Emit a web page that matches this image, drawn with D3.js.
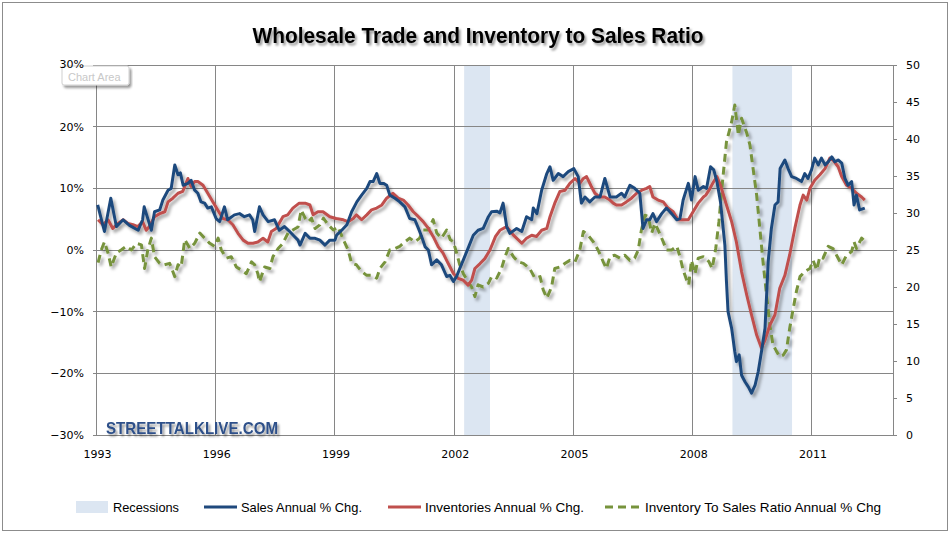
<!DOCTYPE html>
<html><head><meta charset="utf-8">
<script src="https://cdn.jsdelivr.net/npm/d3@7"></script>
<style>
html,body{margin:0;padding:0;background:#fff;}
svg{display:block;}
text{font-family:"Liberation Sans Narrow","Arial Narrow","Liberation Sans",Arial,sans-serif;}
</style></head>
<body>
<svg id="chart" width="951" height="535"></svg>
<script>
// ---- data (decimal year, value) ----
const title = "Wholesale Trade and Inventory to Sales Ratio";
const leftTicks = [-30,-20,-10,0,10,20,30];
const rightTicks = [0,5,10,15,20,25,30,35,40,45,50];
const xTicks = [1993,1996,1999,2002,2005,2008,2011];
const recessions = [[2002.25,2002.9],[2009.0,2010.5]];
const seriesNames = ["Recessions","Sales Annual % Chg.","Inventories Annual % Chg.","Inventory To Sales Ratio Annual % Chg"];

const sales = [[1993.03,7.3],[1993.2,3.0],[1993.36,8.4],[1993.5,3.8],[1993.67,4.9],[1993.83,4.0],[1994.05,3.2],[1994.16,4.9],[1994.2,7.0],[1994.38,3.2],[1994.46,6.2],[1994.59,6.5],[1994.67,8.1],[1994.8,9.7],[1994.88,10.0],[1994.97,13.8],[1995.05,12.2],[1995.11,12.5],[1995.18,10.5],[1995.3,10.8],[1995.38,11.3],[1995.47,9.7],[1995.55,9.2],[1995.63,7.8],[1995.72,7.6],[1995.8,6.8],[1995.89,7.0],[1996.01,5.1],[1996.1,4.6],[1996.22,7.0],[1996.3,4.9],[1996.47,5.7],[1996.6,5.9],[1996.72,5.4],[1996.85,5.7],[1996.93,4.9],[1996.98,3.0],[1997.1,7.0],[1997.19,5.7],[1997.32,4.6],[1997.48,4.9],[1997.6,3.2],[1997.73,3.8],[1997.86,3.0],[1997.98,2.2],[1998.07,1.6],[1998.12,0.8],[1998.25,2.7],[1998.37,1.9],[1998.5,1.9],[1998.62,1.6],[1998.75,0.8],[1998.87,1.6],[1999.0,1.6],[1999.04,2.4],[1999.17,3.2],[1999.3,4.1],[1999.42,6.2],[1999.55,7.8],[1999.67,8.9],[1999.8,10.0],[1999.88,11.1],[1999.96,11.1],[2000.05,12.4],[2000.13,10.8],[2000.22,10.8],[2000.3,10.5],[2000.38,8.9],[2000.51,8.4],[2000.63,7.8],[2000.76,7.0],[2000.88,5.1],[2001.01,4.9],[2001.1,3.5],[2001.18,2.2],[2001.27,0.5],[2001.35,0.0],[2001.43,-2.4],[2001.56,-1.6],[2001.68,-2.4],[2001.81,-4.3],[2001.89,-4.1],[2001.98,-5.1],[2002.06,-4.3],[2002.14,-3.0],[2002.23,-1.6],[2002.35,0.3],[2002.48,2.4],[2002.6,3.2],[2002.73,3.5],[2002.86,5.4],[2002.94,6.2],[2003.07,6.3],[2003.15,6.0],[2003.23,7.6],[2003.32,3.8],[2003.4,2.7],[2003.57,3.5],[2003.7,3.0],[2003.82,5.4],[2003.95,4.9],[2003.99,6.8],[2004.08,5.9],[2004.2,9.7],[2004.33,12.4],[2004.41,13.5],[2004.49,11.3],[2004.62,12.4],[2004.74,11.9],[2004.87,12.7],[2005.01,13.2],[2005.12,11.9],[2005.2,7.6],[2005.29,8.6],[2005.41,7.8],[2005.54,8.6],[2005.67,8.6],[2005.79,11.6],[2005.92,8.6],[2006.08,8.6],[2006.21,9.2],[2006.29,8.6],[2006.42,10.5],[2006.54,10.0],[2006.67,9.2],[2006.75,3.5],[2006.84,4.9],[2006.92,4.9],[2007.0,5.9],[2007.09,4.6],[2007.22,5.9],[2007.34,6.8],[2007.47,5.9],[2007.6,4.9],[2007.68,5.1],[2007.76,8.1],[2007.89,10.8],[2007.97,8.1],[2008.06,11.9],[2008.14,9.7],[2008.27,10.3],[2008.35,10.0],[2008.45,13.5],[2008.53,13.0],[2008.61,11.1],[2008.7,7.8],[2008.81,0.8],[2008.85,-5.1],[2008.89,-10.0],[2008.98,-12.7],[2009.06,-16.5],[2009.1,-18.1],[2009.17,-17.0],[2009.23,-20.3],[2009.32,-21.4],[2009.4,-22.2],[2009.48,-23.2],[2009.57,-21.9],[2009.65,-19.7],[2009.73,-16.5],[2009.82,-12.7],[2009.9,-1.9],[2009.98,3.5],[2010.07,7.3],[2010.15,7.8],[2010.2,13.2],[2010.32,14.6],[2010.4,13.2],[2010.49,11.9],[2010.61,11.6],[2010.74,11.1],[2010.82,12.4],[2010.9,11.6],[2010.99,13.0],[2011.07,14.9],[2011.16,13.8],[2011.24,14.9],[2011.33,13.8],[2011.41,14.3],[2011.5,15.1],[2011.58,14.3],[2011.66,14.6],[2011.75,14.1],[2011.83,11.6],[2011.91,10.5],[2012.0,11.1],[2012.06,7.3],[2012.12,8.9],[2012.2,6.5],[2012.33,6.8]];

const inventories = [[1993.04,4.9],[1993.16,4.1],[1993.29,4.9],[1993.41,3.5],[1993.54,4.3],[1993.67,4.9],[1993.79,4.3],[1993.92,4.1],[1994.04,3.8],[1994.16,4.6],[1994.25,3.2],[1994.33,3.8],[1994.46,5.4],[1994.59,5.9],[1994.72,6.2],[1994.8,7.8],[1994.92,8.4],[1995.05,9.2],[1995.17,9.5],[1995.3,11.6],[1995.38,10.3],[1995.47,11.1],[1995.55,11.1],[1995.68,10.5],[1995.8,9.2],[1995.93,7.8],[1996.05,6.5],[1996.18,5.1],[1996.3,4.9],[1996.43,4.1],[1996.56,2.7],[1996.69,1.6],[1996.81,1.1],[1996.94,1.1],[1997.06,1.3],[1997.19,1.9],[1997.31,1.3],[1997.4,3.0],[1997.52,3.5],[1997.69,5.4],[1997.81,5.7],[1997.94,6.8],[1998.1,7.6],[1998.25,7.6],[1998.37,7.3],[1998.45,5.7],[1998.57,6.2],[1998.7,6.2],[1998.87,5.4],[1999.03,5.1],[1999.21,4.9],[1999.33,4.6],[1999.46,5.1],[1999.54,5.7],[1999.67,4.9],[1999.8,5.7],[1999.92,6.5],[2000.05,6.8],[2000.18,7.3],[2000.3,8.4],[2000.46,9.2],[2000.59,8.4],[2000.72,8.1],[2000.84,7.3],[2000.97,6.2],[2001.1,5.4],[2001.22,4.6],[2001.35,3.5],[2001.47,2.2],[2001.6,0.5],[2001.72,-0.5],[2001.85,-2.2],[2001.98,-3.8],[2002.1,-4.6],[2002.23,-4.9],[2002.35,-5.7],[2002.44,-4.9],[2002.52,-3.0],[2002.65,-2.2],[2002.77,-1.4],[2002.9,0.0],[2003.04,2.2],[2003.15,3.2],[2003.32,3.8],[2003.49,2.4],[2003.7,1.1],[2003.82,1.9],[2003.95,2.4],[2004.07,2.2],[2004.2,3.2],[2004.33,3.5],[2004.41,5.4],[2004.53,7.6],[2004.66,9.5],[2004.79,9.7],[2004.91,10.8],[2005.04,11.6],[2005.16,10.8],[2005.25,11.6],[2005.33,11.9],[2005.45,10.3],[2005.54,9.2],[2005.66,8.6],[2005.79,8.6],[2005.92,8.1],[2006.0,7.6],[2006.08,7.3],[2006.21,7.3],[2006.33,7.8],[2006.46,8.4],[2006.59,9.2],[2006.72,9.7],[2006.84,10.0],[2006.92,10.3],[2007.0,8.6],[2007.13,8.1],[2007.26,7.8],[2007.38,6.8],[2007.51,6.2],[2007.63,4.9],[2007.76,4.9],[2007.89,4.9],[2008.01,6.2],[2008.14,7.6],[2008.27,8.6],[2008.33,8.9],[2008.41,9.7],[2008.53,11.1],[2008.61,11.9],[2008.7,10.5],[2008.85,7.3],[2008.98,4.6],[2009.1,1.3],[2009.23,-3.5],[2009.36,-7.3],[2009.48,-10.5],[2009.61,-13.8],[2009.73,-15.9],[2009.82,-14.6],[2009.94,-12.2],[2010.07,-10.5],[2010.19,-6.2],[2010.32,-4.1],[2010.44,-0.8],[2010.57,3.5],[2010.7,7.3],[2010.78,8.9],[2010.87,8.1],[2010.95,10.0],[2011.07,11.3],[2011.2,12.2],[2011.33,13.2],[2011.45,14.9],[2011.53,14.6],[2011.66,13.5],[2011.75,11.9],[2011.87,10.5],[2012.0,10.0],[2012.12,9.2],[2012.25,8.6],[2012.33,8.1]];

const ratio = [[1993.04,23.3],[1993.12,25.0],[1993.2,26.1],[1993.29,24.6],[1993.37,22.7],[1993.5,24.6],[1993.62,25.0],[1993.75,25.5],[1993.88,25.0],[1994.0,25.9],[1994.13,25.7],[1994.21,22.5],[1994.29,25.0],[1994.38,26.6],[1994.46,24.1],[1994.59,23.2],[1994.71,23.0],[1994.84,23.2],[1994.97,21.4],[1995.05,23.0],[1995.13,22.7],[1995.22,26.4],[1995.35,25.2],[1995.47,25.9],[1995.6,27.3],[1995.72,26.6],[1995.85,25.9],[1995.97,25.5],[1996.06,26.6],[1996.14,25.0],[1996.27,23.9],[1996.39,24.1],[1996.52,22.7],[1996.64,22.3],[1996.77,21.8],[1996.9,23.4],[1996.98,23.0],[1997.06,21.8],[1997.1,20.7],[1997.23,22.7],[1997.36,22.5],[1997.44,24.1],[1997.57,25.2],[1997.69,25.9],[1997.82,27.3],[1997.94,27.7],[1998.07,28.1],[1998.15,30.4],[1998.25,29.3],[1998.33,28.8],[1998.41,29.3],[1998.5,27.9],[1998.62,28.4],[1998.71,29.3],[1998.83,28.4],[1998.96,27.7],[1999.08,28.1],[1999.21,26.4],[1999.33,25.0],[1999.42,23.2],[1999.54,23.0],[1999.67,22.1],[1999.79,21.6],[1999.92,21.6],[2000.05,21.2],[2000.13,22.5],[2000.26,23.4],[2000.38,25.0],[2000.51,25.2],[2000.63,25.5],[2000.76,26.1],[2000.88,26.6],[2001.01,26.1],[2001.13,26.6],[2001.22,27.7],[2001.34,27.7],[2001.47,29.1],[2001.56,27.3],[2001.68,26.6],[2001.81,27.7],[2001.9,26.4],[2001.98,26.1],[2002.06,24.6],[2002.14,23.0],[2002.23,21.8],[2002.35,20.7],[2002.44,20.0],[2002.52,18.7],[2002.6,20.3],[2002.73,20.0],[2002.86,20.5],[2002.94,21.4],[2003.02,21.4],[2003.07,21.2],[2003.19,22.5],[2003.28,24.1],[2003.36,25.2],[2003.49,24.1],[2003.61,23.4],[2003.74,23.2],[2003.9,22.5],[2004.03,21.2],[2004.16,21.4],[2004.24,19.6],[2004.33,18.5],[2004.45,20.0],[2004.53,22.5],[2004.66,22.7],[2004.79,23.2],[2004.91,23.6],[2005.04,23.4],[2005.16,25.0],[2005.25,27.5],[2005.37,27.0],[2005.5,26.1],[2005.62,25.0],[2005.75,23.4],[2005.83,22.5],[2005.92,24.1],[2006.04,24.3],[2006.17,23.9],[2006.29,24.3],[2006.42,23.6],[2006.54,23.9],[2006.63,25.0],[2006.71,27.7],[2006.8,29.7],[2006.88,29.5],[2006.97,27.3],[2007.05,28.6],[2007.13,27.7],[2007.26,26.1],[2007.34,25.0],[2007.47,25.0],[2007.6,25.5],[2007.68,24.1],[2007.76,22.3],[2007.85,20.9],[2007.9,20.3],[2007.97,23.6],[2008.06,21.8],[2008.14,23.9],[2008.27,24.1],[2008.33,23.9],[2008.41,23.4],[2008.49,22.5],[2008.58,25.2],[2008.66,28.8],[2008.75,34.2],[2008.85,39.6],[2008.98,42.3],[2009.06,44.6],[2009.15,40.5],[2009.23,42.8],[2009.36,40.8],[2009.44,39.2],[2009.52,36.0],[2009.61,32.4],[2009.69,27.9],[2009.77,23.4],[2009.86,18.9],[2009.94,14.9],[2010.02,12.2],[2010.11,11.3],[2010.19,10.6],[2010.28,10.8],[2010.36,11.5],[2010.44,14.4],[2010.53,17.1],[2010.61,19.4],[2010.7,21.4],[2010.82,22.1],[2010.95,22.5],[2011.03,23.6],[2011.12,22.3],[2011.2,24.1],[2011.28,23.9],[2011.41,25.5],[2011.53,25.2],[2011.62,24.3],[2011.75,23.0],[2011.87,24.3],[2012.0,24.8],[2012.06,26.1],[2012.12,25.2],[2012.25,26.6],[2012.35,26.1]];

// ---- layout ----
const svg = d3.select("#chart");
const L = 96.5, R = 893, T = 65, B = 435;
const x = d3.scaleLinear().domain([1993, 2013.04]).range([L, R]);
const yL = d3.scaleLinear().domain([-30, 30]).range([B, T]);
const yR = d3.scaleLinear().domain([0, 50]).range([B, T]);

const defs = svg.append("defs");
const f = defs.append("filter").attr("id","sh").attr("x","-10%").attr("y","-10%").attr("width","120%").attr("height","130%");
f.append("feDropShadow").attr("dx",2.5).attr("dy",3).attr("stdDeviation",1.6).attr("flood-color","#000").attr("flood-opacity",0.35);
const ft = defs.append("filter").attr("id","tsh").attr("x","-5%").attr("y","-20%").attr("width","110%").attr("height","150%");
ft.append("feDropShadow").attr("dx",2).attr("dy",2.5).attr("stdDeviation",1.3).attr("flood-color","#000").attr("flood-opacity",0.4);

// outer border
svg.append("rect").attr("x",2.5).attr("y",2.5).attr("width",945).attr("height",528)
  .attr("fill","#fff").attr("stroke","#8c8c8c").attr("stroke-width",1);

// title
svg.append("text").attr("x",478).attr("y",43).attr("text-anchor","middle")
  .attr("font-size",22).attr("font-weight","bold").attr("fill","#000")
  .attr("textLength",451).attr("lengthAdjust","spacingAndGlyphs")
  .attr("filter","url(#tsh)").text(title);

// recessions
svg.append("g").selectAll("rect").data(recessions).join("rect")
  .attr("x",d=>x(d[0])).attr("width",d=>x(d[1])-x(d[0]))
  .attr("y",T).attr("height",B-T).attr("fill","#dce6f2");

// grid
const grid = svg.append("g").attr("stroke","#868686").attr("stroke-width",1).attr("shape-rendering","crispEdges");
grid.selectAll("line.h").data(leftTicks).join("line").attr("class","h")
  .attr("x1",L-4).attr("x2",R).attr("y1",d=>yL(d)).attr("y2",d=>yL(d));
grid.selectAll("line.v").data(xTicks).join("line").attr("class","v")
  .attr("x1",d=>x(d)).attr("x2",d=>x(d)).attr("y1",T).attr("y2",B);
grid.append("line").attr("x1",R).attr("x2",R).attr("y1",T).attr("y2",B);

// left axis labels (30% drawn after tooltip)
const axisFont = "'DejaVu Sans', Verdana, sans-serif";
svg.append("g").selectAll("text").data(leftTicks.filter(d=>d!==30)).join("text")
  .attr("x",84).attr("y",d=>yL(d)+4).attr("text-anchor","end")
  .style("font-family",axisFont).attr("font-size",11).attr("fill","#000")
  .text(d=>d3.format(".0%")(d/100));

// right axis
const ra = svg.append("g").attr("transform",`translate(${R},0)`)
  .call(d3.axisRight(yR).tickValues(rightTicks).tickSize(4).tickPadding(9).tickFormat(d3.format("d")));
ra.select(".domain").attr("stroke","#868686");
ra.selectAll(".tick line").attr("stroke","#868686");
ra.selectAll(".tick text").style("font-family",axisFont).attr("font-size",11).attr("fill","#000");

// bottom axis labels
svg.append("g").selectAll("text").data(xTicks).join("text")
  .attr("x",d=>x(d)+1).attr("y",458).attr("text-anchor","middle")
  .style("font-family",axisFont).attr("font-size",11).attr("fill","#000")
  .text(d=>d);

// lines
const lineL = d3.line().x(d=>x(d[0])).y(d=>yL(d[1]));
const lineR = d3.line().x(d=>x(d[0])).y(d=>yR(d[1]));
const lg = svg.append("g").attr("filter","url(#sh)").attr("fill","none").attr("stroke-linejoin","round");
lg.append("path").datum(ratio).attr("d",lineR).attr("stroke","#77933c").attr("stroke-width",3).attr("stroke-dasharray","8,5");
lg.append("path").datum(inventories).attr("d",lineL).attr("stroke","#c0504d").attr("stroke-width",3);
lg.append("path").datum(sales).attr("d",lineL).attr("stroke","#1f497d").attr("stroke-width",3);

// watermark
svg.append("text").attr("x",106).attr("y",434).attr("font-size",17).attr("font-weight","bold")
  .style("font-family","'Liberation Sans','DejaVu Sans',sans-serif")
  .attr("fill","#2d5089").attr("textLength",172).attr("lengthAdjust","spacingAndGlyphs")
  .attr("filter","url(#tsh)").text("STREETTALKLIVE.COM");

// "Chart Area" tooltip artifact
const tip = svg.append("g");
tip.append("rect").attr("x",62).attr("y",66).attr("width",67).attr("height",19).attr("rx",2)
  .attr("fill","#fff").attr("stroke","#d0d0d0").attr("filter","url(#tsh)");
tip.append("text").attr("x",68).attr("y",81).attr("font-size",11).attr("fill","#c8c8c8")
  .style("font-family","'Liberation Sans',Arial,sans-serif").text("Chart Area");
svg.append("text").attr("x",84).attr("y",68).attr("text-anchor","end")
  .style("font-family",axisFont).attr("font-size",11).attr("fill","#000").text("30%");

// legend
const lgY = 507;
const leg = svg.append("g");
leg.append("rect").attr("x",76).attr("y",lgY-6).attr("width",32).attr("height",12).attr("fill","#dce6f2");
leg.append("line").attr("x1",204).attr("x2",237).attr("y1",lgY).attr("y2",lgY).attr("stroke","#1f497d").attr("stroke-width",3);
leg.append("line").attr("x1",388).attr("x2",421).attr("y1",lgY).attr("y2",lgY).attr("stroke","#c0504d").attr("stroke-width",3);
leg.append("line").attr("x1",605).attr("x2",639).attr("y1",lgY).attr("y2",lgY).attr("stroke","#77933c").attr("stroke-width",3).attr("stroke-dasharray","8,5");
const legPos = [[113,66],[241,121],[425,159],[645,236]];
leg.selectAll("text").data(seriesNames).join("text")
  .attr("x",(d,i)=>legPos[i][0]).attr("y",lgY+5).attr("font-size",13).attr("fill","#000")
  .attr("textLength",(d,i)=>legPos[i][1]).attr("lengthAdjust","spacingAndGlyphs")
  .text(d=>d);
</script>
</body></html>
